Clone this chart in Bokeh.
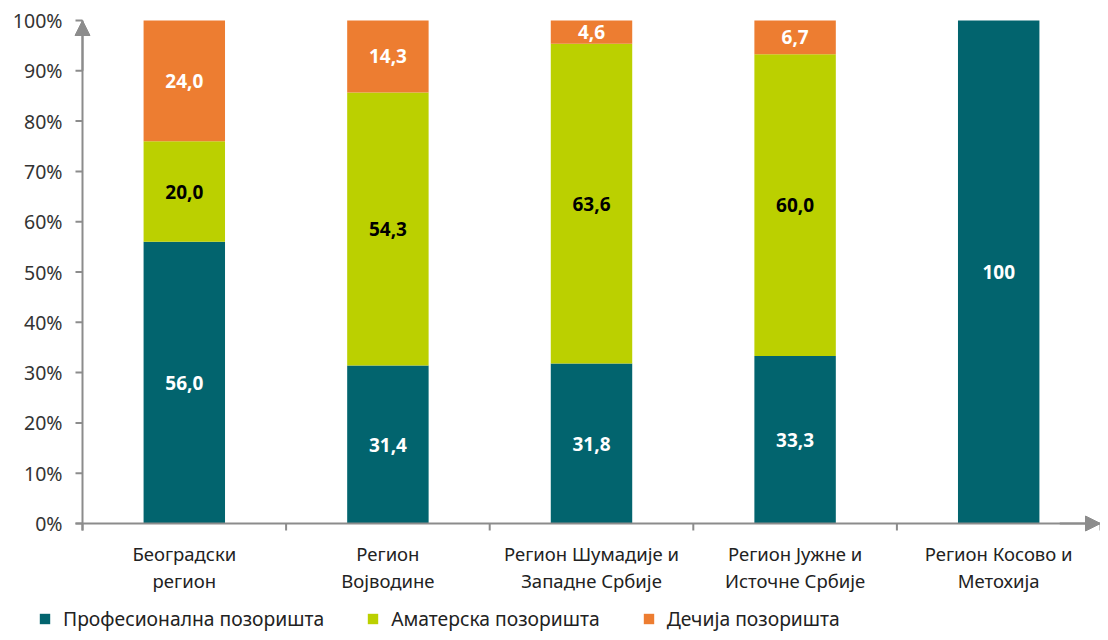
from bokeh.plotting import figure
from bokeh.models import (ColumnDataSource, Range1d, Arrow, NormalHead, Legend, LegendItem)
from bokeh.core.properties import value
from bokeh.embed import file_html
from bokeh.resources import INLINE

regions = ["Београдски\nрегион", "Регион\nВојводине", "Регион Шумадије и\nЗападне Србије",
           "Регион Јужне и\nИсточне Србије", "Регион Косово и\nМетохија"]
series = ["Професионална позоришта", "Аматерска позоришта", "Дечија позоришта"]
professional = [56.0, 31.4, 31.8, 33.3, 100.0]
amateur = [20.0, 54.3, 63.6, 60.0, 0.0]
children = [24.0, 14.3, 4.6, 6.7, 0.0]
colors = ["#02646E", "#BBD000", "#ED7D31"]
label_colors = ["white", "black", "white"]
y_ticks = [0, 10, 20, 30, 40, 50, 60, 70, 80, 90, 100]

FONT = "Noto Sans"
W, H = 1100, 632
X0, Y0, YTOP = 82, 523, 20          # pixel positions of x=0, y=0 and y=100
n = len(regions)
XS = (W - X0) / n                   # px per category
YS = (Y0 - YTOP) / 100.0            # px per percent
def dx(px): return px / XS
def dy(px): return px / YS

x = [i + 0.5 for i in range(n)]

p = figure(width=W, height=H, output_backend="svg", toolbar_location=None,
           x_range=Range1d(-dx(X0), n), y_range=Range1d(-dy(H - Y0), dy(Y0)),
           min_border=0, x_axis_location=None, y_axis_location=None)
p.outline_line_color = None
p.grid.visible = False

src = ColumnDataSource(dict(x=x, p=professional, a=amateur, c=children))
renderers = p.vbar_stack(["p", "a", "c"], x="x", width=0.4, source=src,
                         fill_color=colors, line_color=None)

def fmt(v):
    return "100" if v == 100 else f"{v:.1f}".replace(".", ",")

stacks = [professional, amateur, children]
for k, vals in enumerate(stacks):
    lx, ly, lt = [], [], []
    for i, v in enumerate(vals):
        if v <= 0:
            continue
        base = sum(stacks[j][i] for j in range(k))
        lx.append(x[i]); ly.append(base + v / 2); lt.append(fmt(v))
    ls = ColumnDataSource(dict(x=lx, y=ly, t=lt))
    p.text(x="x", y="y", text="t", source=ls, text_align="center", text_baseline="middle",
           text_font=value(FONT), text_font_size="19px", text_font_style="bold",
           text_color=label_colors[k])

axis_color = "#8C8C8C"
TICK = 7
# axis lines
p.segment(x0=[0, -dx(TICK)], y0=[-dy(TICK), 0], x1=[0, n], y1=[100, 0],
          line_color=axis_color, line_width=2)
# y ticks + labels
p.segment(x0=[-dx(TICK)] * len(y_ticks), y0=y_ticks, x1=[0] * len(y_ticks), y1=y_ticks,
          line_color=axis_color, line_width=2)
p.text(x=[-dx(TICK + 13)] * len(y_ticks), y=y_ticks, text=[f"{t}%" for t in y_ticks],
       text_align="right", text_baseline="middle", text_font=value(FONT),
       text_font_size="19.5px", text_color="#333333")
# x ticks at category boundaries
bounds = list(range(n + 1))
p.segment(x0=bounds, y0=[0] * len(bounds), x1=bounds, y1=[-dy(TICK)] * len(bounds),
          line_color=axis_color, line_width=2)
# category labels (two lines)
for li, off in enumerate([30, 57]):
    p.text(x=x, y=[-dy(off)] * n, text=[r.split("\n")[li] for r in regions],
           text_align="center", text_baseline="middle", text_font=value(FONT),
           text_font_size="18.5px", text_color="#222222")

# arrowheads
p.add_layout(Arrow(end=NormalHead(size=15, fill_color=axis_color, line_color=axis_color),
                   x_start=0, y_start=90, x_end=0, y_end=100, line_color=axis_color, line_width=2))
p.add_layout(Arrow(end=NormalHead(size=15, fill_color=axis_color, line_color=axis_color),
                   x_start=n - 0.2, y_start=0, x_end=n, y_end=0, line_color=axis_color, line_width=2))

legend = Legend(items=[LegendItem(label=s, renderers=[r]) for s, r in zip(series, renderers)],
                orientation="horizontal", location=(38, 0),
                label_text_font=FONT, label_text_font_size="19.3px", label_text_color="#222222",
                glyph_width=13, glyph_height=13, spacing=42, label_standoff=12,
                border_line_color=None, background_fill_alpha=0, padding=0, margin=0)
p.add_layout(legend, "center")

open("out.html", "w").write(file_html(p, INLINE))
